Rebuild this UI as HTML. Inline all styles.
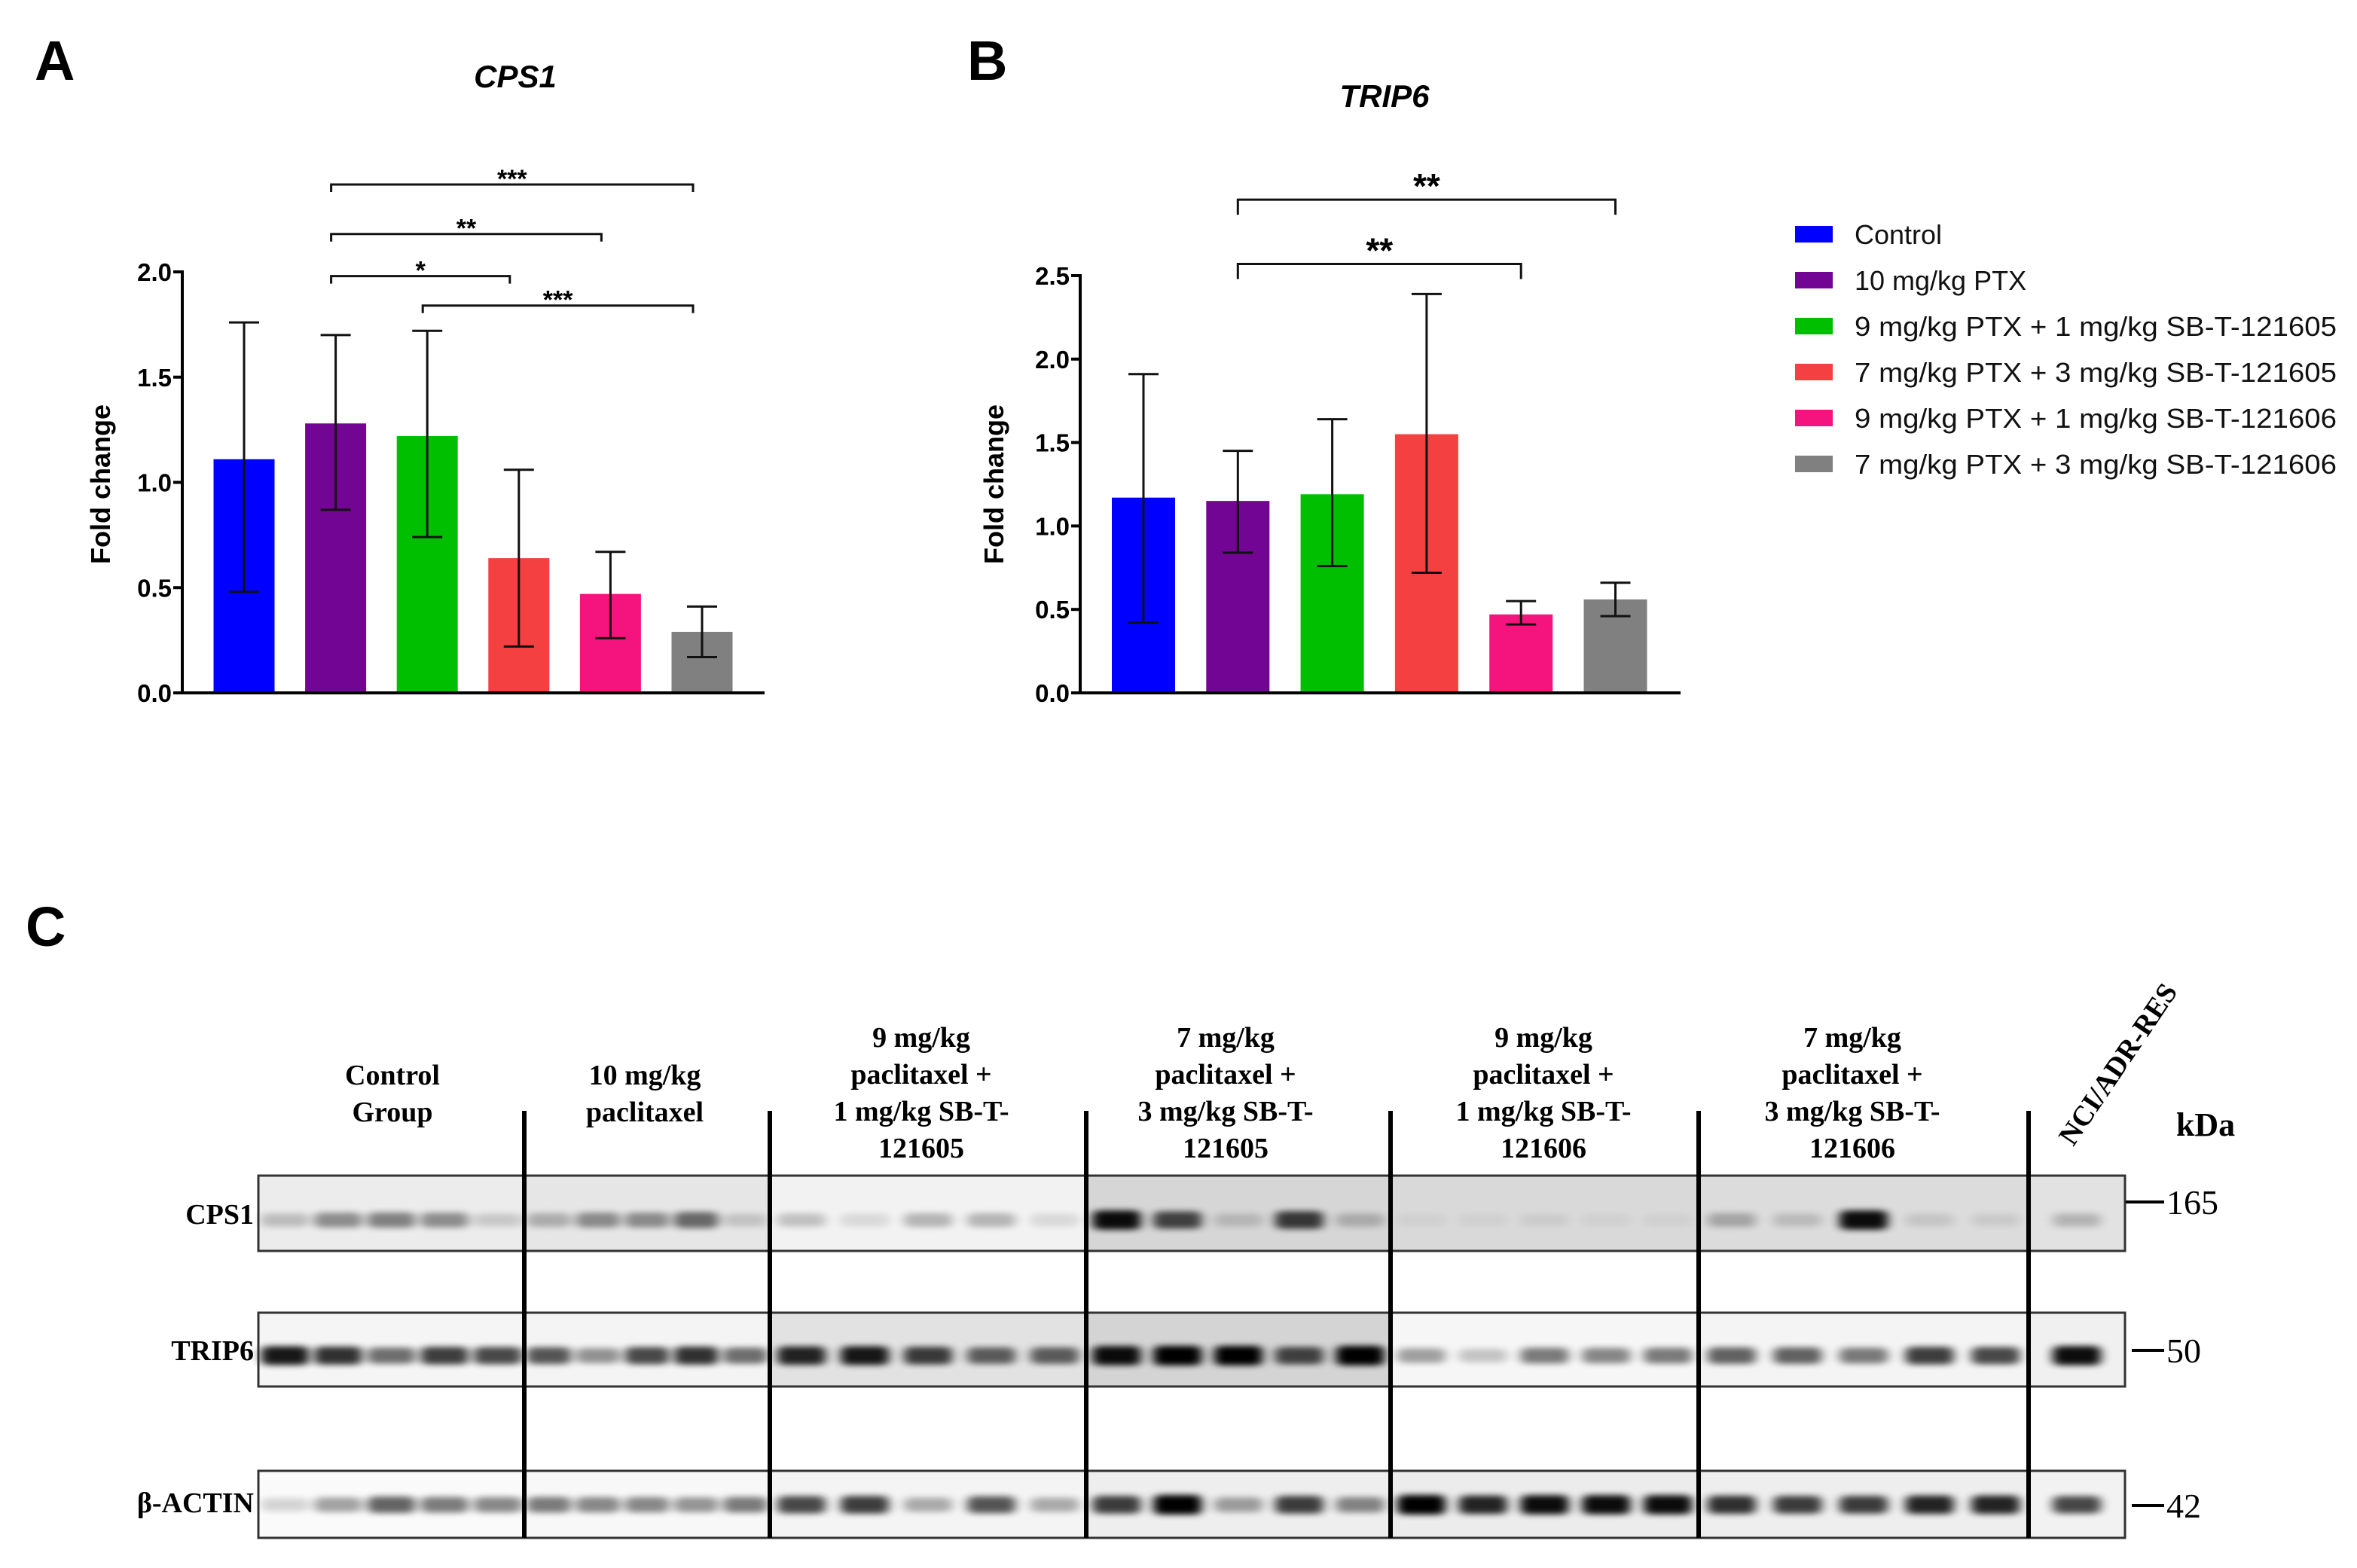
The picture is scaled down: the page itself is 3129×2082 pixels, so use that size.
<!DOCTYPE html>
<html><head><meta charset="utf-8"><style>
html,body{margin:0;padding:0;background:#fff;}
svg{display:block;}
.ax{font-family:"Liberation Sans",Arial,sans-serif;font-weight:bold;}
.tm{font-family:"Liberation Serif","Times New Roman",serif;font-weight:bold;}
</style></head><body>
<svg id="fig" width="3129" height="2082" viewBox="0 0 3129 2082" xmlns="http://www.w3.org/2000/svg">
<defs>
<filter id="blur" x="-50%" y="-200%" width="200%" height="500%"><feGaussianBlur stdDeviation="7 4"/></filter>
</defs>
<rect x="0" y="0" width="3129" height="2082" fill="#fff"/>
<text x="46" y="106" class="ax" font-size="74">A</text>
<text x="1284" y="106" class="ax" font-size="74">B</text>
<text x="34" y="1256" class="ax" font-size="74">C</text>
<text x="684" y="116" text-anchor="middle" class="ax" font-style="italic" font-size="42">CPS1</text>
<text x="1838" y="142" text-anchor="middle" class="ax" font-style="italic" font-size="42">TRIP6</text>
<text x="0" y="0" transform="translate(146,643) rotate(-90)" text-anchor="middle" class="ax" font-size="36">Fold change</text>
<text x="0" y="0" transform="translate(1332,643) rotate(-90)" text-anchor="middle" class="ax" font-size="36">Fold change</text>
<g id="chartA"></g>
<g id="chartB"></g>
<g id="legend"></g>
<g id="blot"></g>
</svg>
<script>
const categories = ['Control','10 mg/kg PTX','9 mg/kg PTX + 1 mg/kg SB-T-121605','7 mg/kg PTX + 3 mg/kg SB-T-121605','9 mg/kg PTX + 1 mg/kg SB-T-121606','7 mg/kg PTX + 3 mg/kg SB-T-121606'];
const colors = ['#0000ff','#730594','#00bf00','#f44040','#f5137e','#808080'];
const cpsMeans = [1.11,1.28,1.22,0.64,0.47,0.29];
const cpsUpper = [1.76,1.70,1.72,1.06,0.67,0.41];
const cpsLower = [0.48,0.87,0.74,0.22,0.26,0.17];
const cpsTicks = [0,0.5,1.0,1.5,2.0];
const cpsTickLabels = ['0.0','0.5','1.0','1.5','2.0'];
const cpsSigFrom = [1,1,1,2];
const cpsSigTo = [5,4,3,5];
const cpsSigLevel = [2.415,2.18,1.98,1.84];
const cpsSigLabel = ['***','**','*','***'];
const tripMeans = [1.17,1.15,1.19,1.55,0.47,0.56];
const tripUpper = [1.91,1.45,1.64,2.39,0.55,0.66];
const tripLower = [0.42,0.84,0.76,0.72,0.41,0.46];
const tripTicks = [0,0.5,1.0,1.5,2.0,2.5];
const tripTickLabels = ['0.0','0.5','1.0','1.5','2.0','2.5'];
const tripSigFrom = [1,1];
const tripSigTo = [5,4];
const tripSigLevel = [2.955,2.57];
const tripSigLabel = ['**','**'];
const blotGroups = ['Control Group','10 mg/kg paclitaxel','9 mg/kg paclitaxel + 1 mg/kg SB-T-121605','7 mg/kg paclitaxel + 3 mg/kg SB-T-121605','9 mg/kg paclitaxel + 1 mg/kg SB-T-121606','7 mg/kg paclitaxel + 3 mg/kg SB-T-121606','NCI/ADR-RES'];
const cps1Bands = [[.2,.4,.45,.4,.15],[.25,.4,.4,.55,.15],[.2,.1,.25,.25,.1],[.95,.7,.15,.75,.2],[.04,.04,.06,.04,.04],[.25,.15,.95,.1,.08],[.2]];
const trip6Bands = [[.9,.8,.55,.75,.7],[.65,.4,.7,.8,.55],[.85,.9,.75,.6,.6],[.95,1,1,.7,1],[.35,.2,.5,.45,.5],[.6,.6,.5,.75,.7],[.95]];
const actinBands = [[.15,.35,.6,.5,.45],[.5,.45,.45,.4,.5],[.7,.75,.3,.65,.3],[.75,1,.35,.75,.45],[1,.85,.95,.95,.95],[.8,.75,.75,.85,.85],[.7]];

const NS='http://www.w3.org/2000/svg';
function mk(parent,tag,attrs,text){const e=document.createElementNS(NS,tag);for(const k in attrs)e.setAttribute(k,attrs[k]);if(text!==undefined)e.textContent=text;parent.appendChild(e);return e;}

function drawChart(g,opt){
  const xC=i=>opt.x0+i*opt.step;
  const yS=v=>opt.base-v*opt.ppu;
  const ymax=opt.ticks[opt.ticks.length-1];
  opt.means.forEach((m,i)=>{
    const r=mk(g,'rect',{x:xC(i)-opt.bw/2,y:yS(m),width:opt.bw,height:yS(0)-yS(m),fill:colors[i]});
    
    
  });
  opt.means.forEach((m,i)=>{
    const eg=mk(g,'g',{stroke:'#111','stroke-width':3});
    
    
    mk(eg,'line',{x1:xC(i),x2:xC(i),y1:yS(opt.upper[i]),y2:yS(opt.lower[i])});
    mk(eg,'line',{x1:xC(i)-20,x2:xC(i)+20,y1:yS(opt.upper[i]),y2:yS(opt.upper[i])});
    mk(eg,'line',{x1:xC(i)-20,x2:xC(i)+20,y1:yS(opt.lower[i]),y2:yS(opt.lower[i])});
  });
  const ya=mk(g,'line',{x1:opt.axX,x2:opt.axX,y1:yS(ymax)-2,y2:yS(0)+2,stroke:'#000','stroke-width':4});
  
  
  const xa=mk(g,'line',{x1:opt.axX-2,x2:opt.axEnd,y1:yS(0),y2:yS(0),stroke:'#000','stroke-width':4});
  
  
  opt.ticks.forEach((t,i)=>{
    mk(g,'line',{x1:opt.axX-12,x2:opt.axX,y1:yS(t),y2:yS(t),stroke:'#000','stroke-width':4});
    const tl=mk(g,'text',{x:opt.axX-14,y:yS(t)+12,'text-anchor':'end','class':'ax','font-size':33},opt.tickLabels[i]);
    
    
  });
  opt.sigFrom.forEach((a,k)=>{
    const b=opt.sigTo[k];const y=yS(opt.sigLevel[k]);
    const sg=mk(g,'g',{});
    
    
    const xa2=xC(a)-opt.inset, xb2=xC(b)-opt.inset*2;
    mk(sg,'path',{d:`M${xa2} ${y+opt.tick} V${y} H${xb2} V${y+opt.tick}`,fill:'none',stroke:'#111','stroke-width':3});
    mk(sg,'text',{x:(xa2+xb2)/2,y:y-opt.starGap,'text-anchor':'middle','class':'ax','font-size':opt.starSize},opt.sigLabel[k]);
  });
}
drawChart(document.getElementById('chartA'),{key:'cps1',x0:324,step:121.6,bw:81,base:920,ppu:279.5,axX:242,axEnd:1015,
  means:cpsMeans,upper:cpsUpper,lower:cpsLower,ticks:cpsTicks,tickLabels:cpsTickLabels,
  sigFrom:cpsSigFrom,sigTo:cpsSigTo,sigLevel:cpsSigLevel,sigLabel:cpsSigLabel,tick:10,starGap:-4,starSize:34,inset:6});
drawChart(document.getElementById('chartB'),{key:'trip6',x0:1518,step:125.3,bw:84,base:920,ppu:221.6,axX:1434,axEnd:2231,
  means:tripMeans,upper:tripUpper,lower:tripLower,ticks:tripTicks,tickLabels:tripTickLabels,
  sigFrom:tripSigFrom,sigTo:tripSigTo,sigLevel:tripSigLevel,sigLabel:tripSigLabel,tick:20,starGap:2,starSize:46,inset:0});

const lg=document.getElementById('legend');
categories.forEach((c,i)=>{
  const y=311+i*61;
  const e=mk(lg,'g',{});
  
  
  mk(e,'rect',{x:2383,y:y-11,width:50,height:22,fill:colors[i]});
  const t=mk(e,'text',{x:2462,y:y+13,'font-family':'"Liberation Sans",Arial,sans-serif','font-size':36,fill:'#111'},c);
  if(c.length>20){t.setAttribute('textLength',640);t.setAttribute('lengthAdjust','spacingAndGlyphs');}
});

const bl=document.getElementById('blot');
const gx=[343,696,1022,1442,1846,2255,2693,2821];
const rows=[
 {name:'CPS1',y0:1561,y1:1661,bandY:1620,bands:cps1Bands,fills:['#ececec','#e6e6e6','#f2f2f2','#d6d6d6','#d9d9d9','#dcdcdc','#e2e2e2'],labelY:1625},
 {name:'TRIP6',y0:1743,y1:1841,bandY:1800,bands:trip6Bands,fills:['#f5f5f5','#f4f4f4','#e2e2e2','#d4d4d4','#f6f6f6','#f4f4f4','#f0f0f0'],labelY:1806},
 {name:'β-ACTIN',y0:1953,y1:2042,bandY:1998,bands:actinBands,fills:['#fafafa','#f8f8f8','#f4f4f4','#eeeeee','#ececec','#eeeeee','#f2f2f2'],labelY:2008}
];
rows.forEach(r=>{
  const rg=mk(bl,'g',{});
  
  
  for(let g=0;g<7;g++){
    mk(rg,'rect',{x:gx[g],y:r.y0,width:gx[g+1]-gx[g],height:r.y1-r.y0,fill:r.fills[g]});
    const w=(gx[g+1]-gx[g])/(g==6?1:5);
    r.bands[g].forEach((v,j)=>{
      const cx=(g==6?(gx[g]+gx[g+1])/2:gx[g]+(j+0.5)*w);
      const bw=Math.min(w*0.9,64);
      const b=mk(rg,'rect',{x:cx-bw/2,y:r.bandY-8-v*5,width:bw,height:16+v*10,rx:8,fill:'#000',opacity:v,filter:'url(#blur)'});
      
      
    });
  }
  mk(rg,'rect',{x:gx[0],y:r.y0,width:gx[7]-gx[0],height:r.y1-r.y0,fill:'none',stroke:'#333','stroke-width':3});
  const lt=mk(rg,'text',{x:337,y:r.labelY,'text-anchor':'end','class':'tm','font-size':38},r.name);
  
  
});
[696,1022,1442,1846,2255,2693].forEach(x=>{
  const d=mk(bl,'line',{x1:x,x2:x,y1:1475,y2:2042,stroke:'#000','stroke-width':6});
  
  
});
const headerX=[521,856,1223,1627,2049,2459];
const headerLines=[['Control','Group'],['10 mg/kg','paclitaxel'],['9 mg/kg','paclitaxel +','1 mg/kg SB-T-','121605'],['7 mg/kg','paclitaxel +','3 mg/kg SB-T-','121605'],['9 mg/kg','paclitaxel +','1 mg/kg SB-T-','121606'],['7 mg/kg','paclitaxel +','3 mg/kg SB-T-','121606']];
headerLines.forEach((ls,i)=>{
  const t=mk(bl,'text',{'text-anchor':'middle','class':'tm','font-size':38});
  
  
  const y0=ls.length==2?1440:1390;
  ls.forEach((l,k)=>{mk(t,'tspan',{x:headerX[i],y:y0+k*49},l);});
});
const nci=mk(bl,'text',{x:0,y:0,transform:'translate(2822,1420) rotate(-56)','text-anchor':'middle','class':'tm','font-size':38},'NCI/ADR-RES');


const kda=mk(bl,'text',{x:2928,y:1508,'text-anchor':'middle','class':'tm','font-size':44},'kDa');


const markerY=[1596,1793,1999];
const markerLabels=['165','50','42'];
markerY.forEach((y,i)=>{
  const mg=mk(bl,'g',{});
  
  
  mk(mg,'line',{x1:i==0?2822:2830,x2:2873,y1:y,y2:y,stroke:'#000','stroke-width':4});
  mk(mg,'text',{x:2876,y:y+16,'font-family':'"Liberation Serif","Times New Roman",serif','font-size':46},markerLabels[i]);
});
</script>
</body></html>
